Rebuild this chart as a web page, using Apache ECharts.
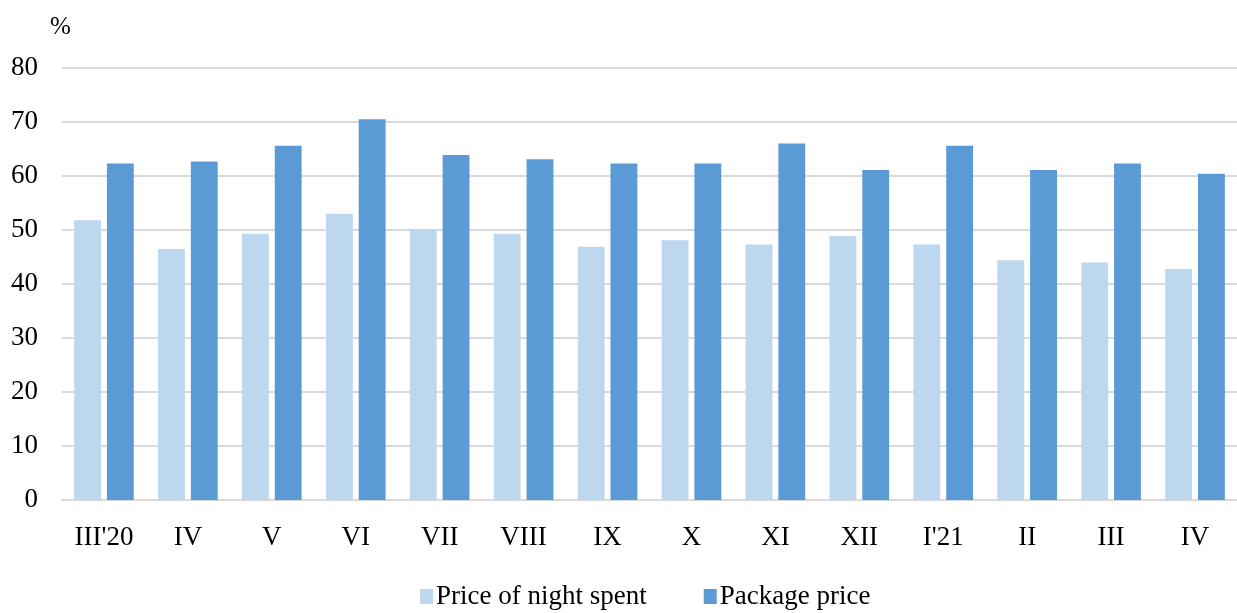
<!DOCTYPE html>
<html>
<head>
<meta charset="utf-8">
<script src="https://cdn.jsdelivr.net/npm/echarts@6/dist/echarts.min.js"></script>
<style>html,body{margin:0;padding:0;background:#fff}#c{width:1237px;height:613px}</style>
</head>
<body>
<div id="c"></div>
<script>
var categories = ["III'20","IV","V","VI","VII","VIII","IX","X","XI","XII","I'21","II","III","IV"];
var nightPrice = [51.8,46.5,49.3,53.0,50.1,49.3,46.9,48.1,47.3,48.9,47.3,44.4,44.0,42.8];
var packagePrice = [62.3,62.7,65.6,70.5,63.9,63.1,62.3,62.3,66.0,61.1,65.6,61.1,62.3,60.4];
var seriesNames = ["Price of night spent","Package price"];
var yTicks = {min:0, max:80, interval:10};

var font = "'Liberation Serif', 'Times New Roman', serif";
var chart = echarts.init(document.getElementById('c'));
chart.setOption({
  animation:false,
  textStyle:{fontFamily:font},
  grid:{left:62,right:0,top:68,bottom:113,containLabel:false},
  legend:{
    top:578,left:415,itemWidth:13,itemHeight:15,itemGap:57,
    icon:'rect',
    textStyle:{fontFamily:font,fontSize:27,color:'#000',padding:[0,0,0,-2]},
    data:seriesNames
  },
  xAxis:{
    type:'category',data:categories,
    axisLine:{lineStyle:{color:'#d9d9d9',width:2}},
    axisTick:{show:false},
    axisLabel:{color:'#000',fontSize:27,fontFamily:font,margin:24}
  },
  yAxis:{
    type:'value',min:yTicks.min,max:yTicks.max,interval:yTicks.interval,
    name:'%',nameGap:28,nameTextStyle:{color:'#000',fontSize:25,fontFamily:font,align:'left',padding:[0,0,0,-12]},
    axisLine:{show:false},axisTick:{show:false},
    axisLabel:{color:'#000',fontSize:27,fontFamily:font,margin:24},
    splitLine:{lineStyle:{color:'#d9d9d9',width:2}}
  },
  series:[
    {name:seriesNames[0],type:'bar',data:nightPrice,barWidth:'32%',barGap:'22%',
     itemStyle:{color:'#BDD7EE'}},
    {name:seriesNames[1],type:'bar',data:packagePrice,barWidth:'32%',barGap:'22%',
     itemStyle:{color:'#5B9BD5'}}
  ]
});
</script>
</body>
</html>
